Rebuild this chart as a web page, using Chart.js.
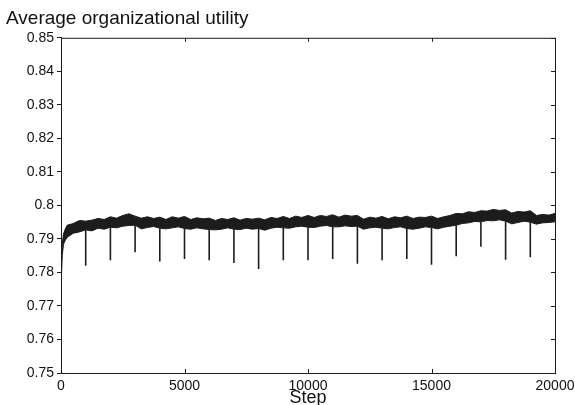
<!DOCTYPE html>
<html>
<head>
<meta charset="utf-8">
<script src="https://cdn.jsdelivr.net/npm/chart.js@4"></script>
<style>
  html, body { margin: 0; padding: 0; background: #fff; }
  #wrap { width: 575px; height: 405px; }
</style>
</head>
<body>
<div id="wrap"><canvas id="chart"></canvas></div>
<script>
const steps = [0, 20, 50, 100, 175, 250, 500, 750, 1000, 1250, 1500, 1750, 2000, 2250, 2500, 2750,
  3000, 3250, 3500, 3750, 4000, 4250, 4500, 4750, 5000, 5250, 5500, 5750, 6000, 6250, 6500, 6750,
  7000, 7250, 7500, 7750, 8000, 8250, 8500, 8750, 9000, 9250, 9500, 9750, 10000, 10250, 10500, 10750,
  11000, 11250, 11500, 11750, 12000, 12250, 12500, 12750, 13000, 13250, 13500, 13750, 14000, 14250,
  14500, 14750, 15000, 15250, 15500, 15750, 16000, 16250, 16500, 16750, 17000, 17250, 17500, 17750,
  18000, 18250, 18500, 18750, 19000, 19250, 19500, 19750, 20000];

// Upper / lower edge of the noisy utility band
const upper = [0.7725, 0.7835, 0.7885, 0.7915, 0.7930, 0.7941, 0.7946, 0.7955, 0.7953, 0.7956, 0.7961, 0.7958,
  0.7966, 0.7962, 0.7970, 0.7975, 0.7968, 0.7962, 0.7966, 0.7961, 0.7965, 0.7958, 0.7966, 0.7962,
  0.7967, 0.7958, 0.7963, 0.7960, 0.7962, 0.7955, 0.7961, 0.7958, 0.7963, 0.7956, 0.7961, 0.7959,
  0.7962, 0.7957, 0.7964, 0.7961, 0.7967, 0.7961, 0.7968, 0.7964, 0.7970, 0.7964, 0.7970, 0.7967,
  0.7972, 0.7965, 0.7971, 0.7968, 0.7970, 0.7959, 0.7965, 0.7962, 0.7967, 0.7960, 0.7966, 0.7963,
  0.7968, 0.7961, 0.7965, 0.7964, 0.7968, 0.7961, 0.7966, 0.7970, 0.7976, 0.7975, 0.7981, 0.7979,
  0.7984, 0.7983, 0.7988, 0.7985, 0.7987, 0.7977, 0.7982, 0.7980, 0.7984, 0.7970, 0.7973, 0.7971, 0.7976];
const lower = [0.7715, 0.7790, 0.7850, 0.7884, 0.7896, 0.7905, 0.7917, 0.7921, 0.7927, 0.7924, 0.7932, 0.7929,
  0.7935, 0.7933, 0.7938, 0.7940, 0.7941, 0.7930, 0.7934, 0.7937, 0.7932, 0.7930, 0.7933, 0.7936,
  0.7931, 0.7929, 0.7933, 0.7930, 0.7928, 0.7927, 0.7929, 0.7933, 0.7929, 0.7928, 0.7932, 0.7929,
  0.7931, 0.7926, 0.7932, 0.7935, 0.7933, 0.7932, 0.7936, 0.7938, 0.7935, 0.7934, 0.7938, 0.7940,
  0.7936, 0.7936, 0.7939, 0.7937, 0.7938, 0.7929, 0.7933, 0.7935, 0.7932, 0.7930, 0.7934, 0.7936,
  0.7931, 0.7929, 0.7932, 0.7936, 0.7934, 0.7930, 0.7935, 0.7938, 0.7941, 0.7946, 0.7948, 0.7952,
  0.7951, 0.7955, 0.7954, 0.7957, 0.7953, 0.7945, 0.7949, 0.7953, 0.7950, 0.7944, 0.7948, 0.7949, 0.7951];

// Sharp drops every 1000 steps
const dipSteps = [1000, 2000, 3000, 4000, 5000, 6000, 7000, 8000, 9000, 10000,
  11000, 12000, 13000, 14000, 15000, 16000, 17000, 18000, 19000];
const dipValues = [0.7820, 0.7836, 0.7860, 0.7833, 0.7840, 0.7836, 0.7828, 0.7810, 0.7836, 0.7836,
  0.7840, 0.7826, 0.7836, 0.7840, 0.7823, 0.7848, 0.7877, 0.7838, 0.7845];

const xTicks = [0, 5000, 10000, 15000, 20000];
const yTicks = [0.75, 0.76, 0.77, 0.78, 0.79, 0.8, 0.81, 0.82, 0.83, 0.84, 0.85];

const ink = '#1c1c1c';
const fontFamily = 'Arial, "Liberation Sans", Helvetica, sans-serif';

const upperPts = steps.map((s, i) => ({x: s, y: upper[i]}));
const lowerPts = steps.map((s, i) => ({x: s, y: lower[i]}));
const dipPts = [];
dipSteps.forEach((s, i) => {
    const top = lower[steps.indexOf(s)];
    dipPts.push({x: s, y: top}, {x: s, y: dipValues[i]}, {x: s, y: null});
});

// Frame with inward ticks on bottom, top and right
const frameTicks = {
    id: 'frameTicks',
    afterDraw(chart) {
        const {ctx, chartArea: a, scales: {x, y}} = chart;
        const len = 4;
        ctx.save();
        ctx.strokeStyle = ink;
        ctx.lineWidth = 1;
        ctx.beginPath();
        ctx.moveTo(a.left, a.top + 0.5);
        ctx.lineTo(a.right + 0.5, a.top + 0.5);
        ctx.lineTo(a.right + 0.5, a.bottom);
        xTicks.forEach(v => {
            const px = Math.round(x.getPixelForValue(v)) + 0.5;
            ctx.moveTo(px, a.bottom);
            ctx.lineTo(px, a.bottom - len);
            ctx.moveTo(px, a.top);
            ctx.lineTo(px, a.top + len);
        });
        yTicks.forEach(v => {
            const py = Math.round(y.getPixelForValue(v)) + 0.5;
            ctx.moveTo(a.right, py);
            ctx.lineTo(a.right - len, py);
        });
        ctx.stroke();
        ctx.restore();
    }
};

new Chart(document.getElementById('chart'), {
    type: 'line',
    data: {
        datasets: [
            {data: upperPts, borderColor: ink, backgroundColor: ink, borderWidth: 1, fill: '+1', pointRadius: 0, tension: 0},
            {data: lowerPts, borderColor: ink, borderWidth: 1, fill: false, pointRadius: 0, tension: 0},
            {data: dipPts, borderColor: ink, borderWidth: 1.6, fill: false, pointRadius: 0, tension: 0, spanGaps: false}
        ]
    },
    options: {
        responsive: true,
        maintainAspectRatio: false,
        animation: false,
        layout: {padding: {left: 6, right: 0, top: 4, bottom: 0}},
        plugins: {
            legend: {display: false},
            tooltip: {enabled: false},
            title: {
                display: true,
                text: 'Average organizational utility',
                align: 'start',
                color: '#111',
                font: {family: fontFamily, size: 19, weight: 'normal'},
                padding: {top: 3, bottom: 8}
            }
        },
        scales: {
            x: {
                type: 'linear',
                min: 0,
                max: 20000,
                afterBuildTicks: s => { s.ticks = xTicks.map(v => ({value: v})); },
                afterFit: s => { s.height = 32; s.paddingRight = 20; s.paddingLeft = 0; },
                ticks: {
                    color: '#111',
                    font: {family: fontFamily, size: 14},
                    padding: 5,
                    maxRotation: 0,
                    callback: v => String(v)
                },
                grid: {display: true, drawOnChartArea: false, drawTicks: false, color: ink},
                border: {display: true, color: ink, width: 1},
                title: {
                    display: true,
                    text: 'Step',
                    color: '#111',
                    font: {family: fontFamily, size: 18},
                    padding: {top: 0, bottom: -4}
                }
            },
            y: {
                min: 0.75,
                max: 0.85,
                afterBuildTicks: s => { s.ticks = yTicks.map(v => ({value: v})); },
                afterFit: s => { s.width = 55; },
                ticks: {
                    color: '#111',
                    font: {family: fontFamily, size: 14},
                    padding: 3,
                    callback: v => String(+v.toFixed(2))
                },
                grid: {display: true, drawOnChartArea: false, drawTicks: true, tickLength: 4, color: ink},
                border: {display: true, color: ink, width: 1}
            }
        }
    },
    plugins: [frameTicks]
});
</script>
</body>
</html>
